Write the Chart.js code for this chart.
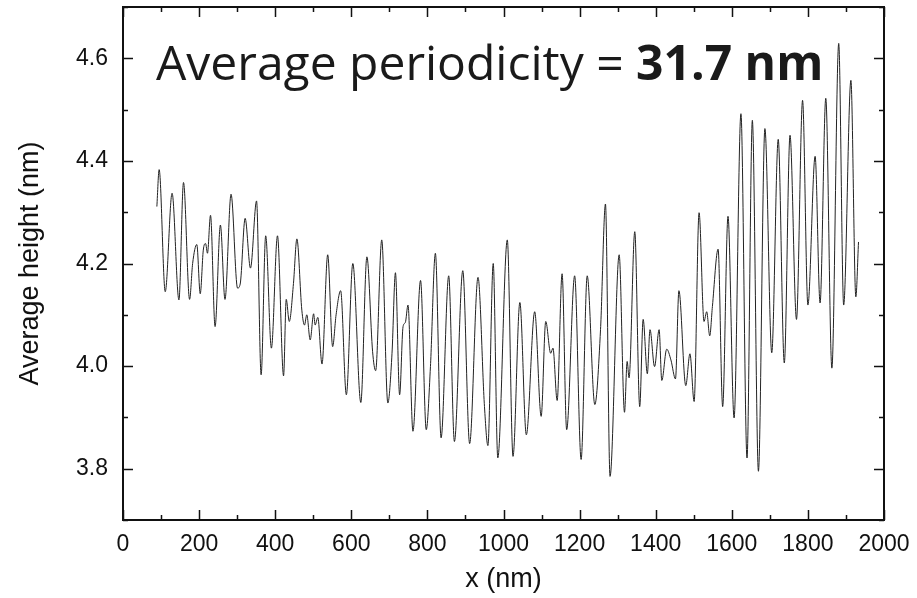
<!DOCTYPE html>
<html>
<head>
<meta charset="utf-8">
<script src="https://cdn.jsdelivr.net/npm/chart.js@4.4.1/dist/chart.umd.min.js"></script>
<style>
  html, body { margin: 0; padding: 0; background: #fff; }
  #wrap { width: 917px; height: 598px; }
</style>
</head>
<body>
<div id="wrap"><canvas id="profil"></canvas></div>
<script>
// positions le long du profil (nm)
const positionNm = [
  89, 95, 111, 129, 147, 159, 175, 183, 194, 203, 211, 217, 222, 230, 242, 256, 268, 284, 301, 308,
  321, 335, 351, 363, 375, 390, 406, 422, 429, 437, 448, 457, 470, 477, 483, 492, 501, 505, 512, 523,
  538, 551, 560, 572, 587, 604, 625, 641, 656, 664, 680, 696, 707, 716, 727, 736, 742, 749, 762, 782,
  797, 808, 821, 836, 856, 871, 893, 911, 933, 950, 959, 973, 985, 1010, 1025, 1043, 1060, 1082, 1099, 1111,
  1124, 1130, 1141, 1154, 1166, 1187, 1204, 1220, 1240, 1255, 1268, 1280, 1304, 1318, 1325, 1330, 1345, 1358, 1367, 1378,
  1385, 1397, 1409, 1416, 1429, 1440, 1452, 1461, 1479, 1490, 1501, 1514, 1527, 1534, 1542, 1549, 1564, 1576, 1590, 1606,
  1624, 1640, 1654, 1670, 1687, 1705, 1722, 1738, 1753, 1770, 1786, 1800, 1819, 1832, 1847, 1863, 1881, 1894, 1913, 1926,
  1933
];

// hauteur moyenne (nm)
const hauteurNm = [
  4.311, 4.383, 4.145, 4.337, 4.129, 4.358, 4.130, 4.200, 4.237, 4.141, 4.226, 4.239, 4.220, 4.294, 4.077, 4.275, 4.130, 4.335, 4.152, 4.160,
  4.288, 4.191, 4.322, 3.983, 4.254, 4.035, 4.254, 3.981, 4.130, 4.087, 4.161, 4.248, 4.109, 4.080, 4.100, 4.051, 4.102, 4.080, 4.095, 4.004,
  4.217, 4.038, 4.100, 4.147, 3.944, 4.200, 3.929, 4.213, 4.028, 3.991, 4.246, 3.928, 4.025, 4.182, 3.944, 4.077, 4.085, 4.119, 3.873, 4.167,
  3.876, 3.999, 4.220, 3.860, 4.176, 3.853, 4.186, 3.849, 4.173, 3.921, 3.845, 4.200, 3.821, 4.246, 3.824, 4.124, 3.866, 4.106, 3.902, 4.087,
  4.025, 4.035, 3.933, 4.180, 3.876, 4.176, 3.818, 4.176, 3.925, 4.071, 4.316, 3.785, 4.217, 3.910, 4.009, 3.977, 4.262, 3.921, 4.091, 3.985,
  4.071, 3.999, 4.071, 3.972, 4.033, 4.012, 3.975, 4.147, 3.962, 4.024, 3.931, 4.299, 4.087, 4.106, 4.059, 4.116, 4.228, 3.921, 4.292, 3.899,
  4.492, 3.821, 4.479, 3.795, 4.463, 4.026, 4.442, 4.006, 4.450, 4.091, 4.518, 4.119, 4.409, 4.123, 4.522, 3.996, 4.629, 4.119, 4.557, 4.135,
  4.242
];

const ticksX = [0, 200, 400, 600, 800, 1000, 1200, 1400, 1600, 1800, 2000];
const ticksY = [3.8, 4.0, 4.2, 4.4, 4.6];
const mineursX = [100, 300, 500, 700, 900, 1100, 1300, 1500, 1700, 1900];
const mineursY = [3.7, 3.9, 4.1, 4.3, 4.5, 4.7];

const texteNormal = "Average periodicity = ";
const texteGras = "31.7 nm";

// cadre + graduations vers l'intérieur (style Origin)
const cadrePlugin = {
  id: "cadre",
  afterDatasetsDraw(chart) {
    const { ctx, chartArea: a, scales: { x, y } } = chart;
    ctx.save();
    ctx.strokeStyle = "#111";
    ctx.lineWidth = 1.5;
    const tick = (vals, len) => {
      vals.forEach(v => {
        const px = Math.round(x.getPixelForValue(v)) + 0.5;
        if (px < a.left - 1 || px > a.right + 1) return;
        ctx.beginPath();
        ctx.moveTo(px, a.bottom); ctx.lineTo(px, a.bottom - len);
        ctx.moveTo(px, a.top); ctx.lineTo(px, a.top + len);
        ctx.stroke();
      });
    };
    const tickY = (vals, len) => {
      vals.forEach(v => {
        const py = Math.round(y.getPixelForValue(v)) + 0.5;
        ctx.beginPath();
        ctx.moveTo(a.left, py); ctx.lineTo(a.left + len, py);
        ctx.moveTo(a.right, py); ctx.lineTo(a.right - len, py);
        ctx.stroke();
      });
    };
    tick(ticksX, 10);
    tick(mineursX, 5);
    tickY(ticksY, 10);
    tickY(mineursY, 5);
    ctx.lineWidth = 2;
    ctx.strokeRect(a.left, a.top, a.right - a.left, a.bottom - a.top);

    // annotation
    ctx.fillStyle = "#1a1a1a";
    ctx.textBaseline = "alphabetic";
    ctx.font = "48px 'Open Sans'";
    const x0 = a.left + 33, base = 80;
    ctx.fillText(texteNormal, x0, base);
    const w = ctx.measureText(texteNormal).width;
    ctx.font = "bold 48px 'Open Sans'";
    ctx.fillText(texteGras, x0 + w, base);
    ctx.restore();
  }
};

document.addEventListener("DOMContentLoaded", () => {
  const ctx = document.getElementById("profil").getContext("2d");
  new Chart(ctx, {
    type: "line",
    data: {
      datasets: [{
        data: positionNm.map((v, i) => ({ x: v, y: hauteurNm[i] })),
        borderColor: "#222",
        borderWidth: 1,
        pointRadius: 0,
        fill: false,
        cubicInterpolationMode: "monotone"
      }]
    },
    options: {
      responsive: true,
      maintainAspectRatio: false,
      animation: false,
      layout: { padding: { top: 7, right: 33, left: 0, bottom: 0 } },
      plugins: { legend: { display: false }, tooltip: { enabled: false } },
      scales: {
        x: {
          type: "linear",
          min: 0,
          max: 2000,
          afterBuildTicks: s => { s.ticks = ticksX.map(v => ({ value: v })); },
          afterFit: s => { s.height = 78; s.paddingLeft = 0; s.paddingRight = 0; },
          grid: { display: false, drawTicks: false },
          border: { display: false },
          ticks: {
            color: "#111",
            font: { family: "'Liberation Sans', Arial", size: 23 },
            padding: 11,
            maxRotation: 0,
            callback: v => String(v)
          },
          title: {
            display: true,
            text: "x (nm)",
            color: "#111",
            font: { family: "'Liberation Sans', Arial", size: 27, lineHeight: 1.2 },
            padding: { bottom: 2 }
          }
        },
        y: {
          type: "linear",
          min: 3.7,
          max: 4.7,
          afterBuildTicks: s => { s.ticks = ticksY.map(v => ({ value: v })); },
          afterFit: s => { s.width = 123; s.paddingTop = 0; s.paddingBottom = 0; },
          grid: { display: false, drawTicks: false },
          border: { display: false },
          ticks: {
            color: "#111",
            font: { family: "'Liberation Sans', Arial", size: 23 },
            padding: 15,
            callback: v => v.toFixed(1)
          },
          title: {
            display: true,
            text: "Average height (nm)",
            color: "#111",
            font: { family: "'Liberation Sans', Arial", size: 27, lineHeight: 1.2 },
            padding: { top: 14 }
          }
        }
      }
    },
    plugins: [cadrePlugin]
  });
});
</script>
</body>
</html>
